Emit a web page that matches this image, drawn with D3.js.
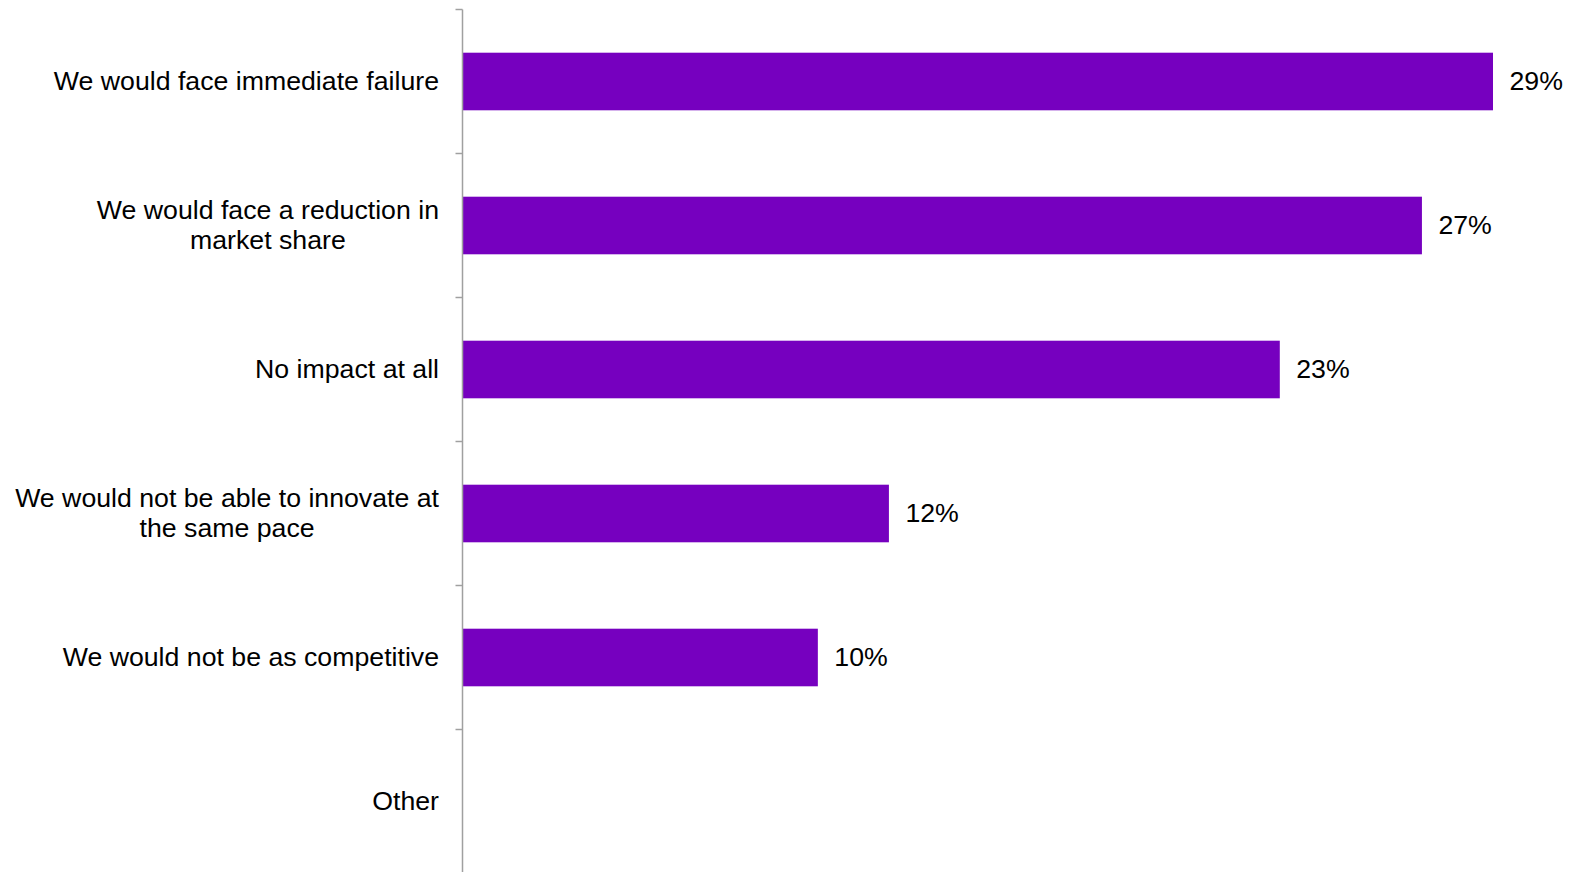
<!DOCTYPE html>
<html>
<head>
<meta charset="utf-8">
<script src="https://cdn.jsdelivr.net/npm/d3@7"></script>
<style>
  html, body { margin: 0; padding: 0; background: #fff; }
  svg { display: block; }
</style>
</head>
<body>
<svg id="chart" width="1569" height="872"></svg>
<script>
// Survey responses, top to bottom
const categories = [
  "We would face immediate failure",
  "We would face a reduction in|market share",
  "No impact at all",
  "We would not be able to innovate at|the same pace",
  "We would not be as competitive",
  "Other"
];
const values = [29, 27, 23, 12, 10, null];

const svg = d3.select("#chart");
const plotLeft = 462.5, plotTop = 9.5, plotBottom = 873.5;
const fontSize = 26.7;

const y = d3.scaleBand()
  .domain(categories)
  .range([plotTop, plotBottom])
  .paddingInner(0.6)
  .paddingOuter(0.3);

const x = d3.scaleLinear()
  .domain([0, 29])
  .range([plotLeft, 1493]);

const data = categories.map((c, i) => ({ c, v: values[i] }));

// bars
svg.selectAll("rect.bar")
  .data(data.filter(d => d.v != null))
  .join("rect")
  .attr("class", "bar")
  .attr("x", x(0))
  .attr("y", d => y(d.c))
  .attr("width", d => x(d.v) - x(0))
  .attr("height", y.bandwidth())
  .attr("fill", "#7600BF");

// value labels
svg.selectAll("text.val")
  .data(data.filter(d => d.v != null))
  .join("text")
  .attr("class", "val")
  .attr("x", d => x(d.v) + 16.5)
  .attr("y", d => y(d.c) + y.bandwidth() / 2)
  .attr("dy", "0.32em")
  .attr("font-family", "Liberation Sans, Arial, sans-serif")
  .attr("font-size", fontSize)
  .attr("fill", "#000")
  .text(d => d.v + "%");

// vertical axis line and category separators
const step = y.step();
const edges = d3.range(categories.length + 1).map(i => plotTop + i * step);
svg.append("line")
  .attr("x1", plotLeft).attr("x2", plotLeft)
  .attr("y1", plotTop).attr("y2", plotBottom)
  .attr("stroke", "#A0A0A0").attr("stroke-width", 1.5);
svg.selectAll("line.tick")
  .data(edges)
  .join("line")
  .attr("class", "tick")
  .attr("x1", plotLeft - 7).attr("x2", plotLeft)
  .attr("y1", d => d).attr("y2", d => d)
  .attr("stroke", "#A0A0A0").attr("stroke-width", 1.5);

// category labels (multi-line where split by "|")
const lab = svg.selectAll("text.cat")
  .data(categories)
  .join("text")
  .attr("class", "cat")
  .attr("font-family", "Liberation Sans, Arial, sans-serif")
  .attr("font-size", fontSize)
  .attr("fill", "#000")
  .attr("text-anchor", "end")
  .attr("transform", d => `translate(439,${y(d) + y.bandwidth() / 2})`);

lab.each(function(d) {
  const lines = d.split("|");
  const lh = 30.5;
  const t = d3.select(this);
  lines.forEach((ln, i) => {
    const ts = t.append("tspan")
      .attr("x", 0)
      .attr("y", (i - (lines.length - 1) / 2) * lh)
      .attr("dy", "0.32em")
      .text(ln);
    if (i > 0) ts.attr("text-anchor", "middle");
  });
});

// centre the continuation lines under their first line
lab.each(function(d) {
  const spans = d3.select(this).selectAll("tspan").nodes();
  if (spans.length < 2) return;
  const w = spans[0].getComputedTextLength();
  spans.forEach((s, i) => {
    if (i > 0) d3.select(s).attr("x", -w / 2);
  });
});
</script>
</body>
</html>
